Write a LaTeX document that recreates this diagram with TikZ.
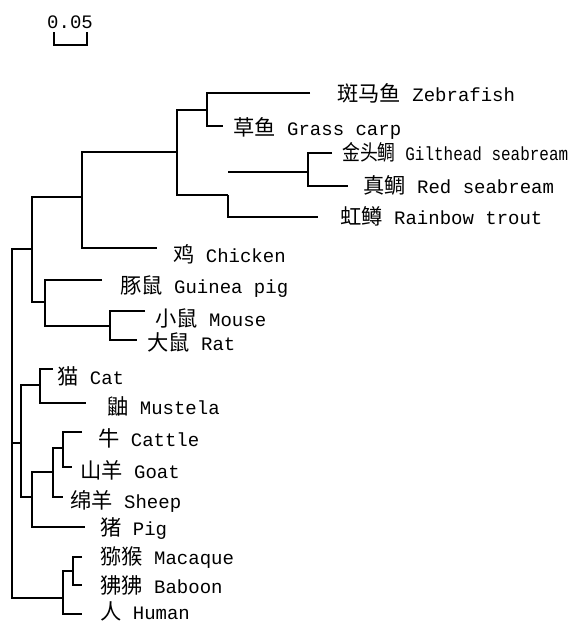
\documentclass[tikz,border=0pt]{standalone}
\usepackage{fontspec}
\setmonofont{Liberation Mono}
\newfontfamily\cjk[Scale=1.12]{Noto Sans CJK SC}
\newcommand\zh[1]{{\cjk #1}}
\usepackage{tikz}
\usetikzlibrary{calc}

\begin{document}
\begin{tikzpicture}[
  x=1pt,y=-1pt,
  branch/.style={line width=2pt},
  taxon/.style={anchor=west,inner sep=0pt,font=\fontsize{19}{19}\selectfont\ttfamily}
]
\useasboundingbox (0,0) rectangle (568,624);
% scale bar
\node[taxon] (scale) at (47,22) {0.05};
\coordinate (sbL) at (54,32);
\coordinate (sbR) at (87,32);
\draw[line width=1.6pt] (sbL) |- ($(sbR)+(0,13)$) -- (sbR);
% internal nodes
\coordinate (root) at (12,443);
\coordinate (nA) at (32,249);
\coordinate (nB) at (82,197);
\coordinate (nC) at (177,152);
\coordinate (nD) at (207,110);
\coordinate (nE) at (228,195);
\coordinate (nF) at (308,172);
\coordinate (nG) at (45,302);
\coordinate (nH) at (110,326);
\coordinate (nI) at (21,443);
\coordinate (nJ) at (40,385);
\coordinate (nK) at (32,497);
\coordinate (nL) at (53,472);
\coordinate (nM) at (63,448);
\coordinate (nN) at (63,598);
\coordinate (nO) at (73,571);
% branch ends
\coordinate (zebra-e) at (310,93);
\coordinate (grass-e) at (223,126);
\coordinate (gilt-e) at (332,153);
\coordinate (red-e) at (348,186);
\coordinate (trout-e) at (318,217);
\coordinate (chicken-e) at (157,248);
\coordinate (guinea-e) at (102,280);
\coordinate (mouse-e) at (145,311);
\coordinate (rat-e) at (137,340);
\coordinate (cat-e) at (53,369);
\coordinate (mustela-e) at (86,403);
\coordinate (cattle-e) at (82,432);
\coordinate (goat-e) at (72,467);
\coordinate (sheep-e) at (63,497);
\coordinate (pig-e) at (85,527);
\coordinate (macaque-e) at (82,557);
\coordinate (baboon-e) at (82,585);
\coordinate (human-e) at (82,614);
% labels
\node[taxon] (zebra) at (337,93) {\zh{斑马鱼} Zebrafish};
\node[taxon] (grass) at (233,128) {\zh{草鱼} Grass carp};
\node[taxon] (gilt) at (342,152) {\scalebox{0.84}[1]{\zh{金头鲷} Gilthead seabream}};
\node[taxon] (red) at (363,185) {\zh{真鲷} Red seabream};
\node[taxon] (trout) at (340,216) {\zh{虹鳟} Rainbow trout};
\node[taxon] (chicken) at (173,254) {\zh{鸡} Chicken};
\node[taxon] (guinea) at (120,287) {\zh{豚鼠} Guinea pig};
\node[taxon] (mouse) at (155,318) {\zh{小鼠} Mouse};
\node[taxon] (rat) at (147,342) {\zh{大鼠} Rat};
\node[taxon] (cat) at (57,376) {\zh{猫} Cat};
\node[taxon] (mustela) at (107,406) {\zh{鼬} Mustela};
\node[taxon] (cattle) at (98,438) {\zh{牛} Cattle};
\node[taxon] (goat) at (80,470) {\zh{山羊} Goat};
\node[taxon] (sheep) at (70,501) {\zh{绵羊} Sheep};
\node[taxon] (pig) at (100,529) {\zh{猪} Pig};
\node[taxon] (macaque) at (100,558) {\zh{猕猴} Macaque};
\node[taxon] (baboon) at (100,585) {\zh{狒狒} Baboon};
\node[taxon] (human) at (100,611) {\zh{人} Human};
% tree
\begin{scope}[branch]
\draw (nA) -| (root) |- (nN);
\draw (nI) -- (nI -| root);
\draw (nB) -| (nA) |- (nG);
\draw (nC) -| (nB) |- (chicken-e);
\draw (nD) -| (nC) |- (nE);
\draw (zebra-e) -| (nD) |- (grass-e);
\draw (nE) |- (trout-e);
\draw (gilt-e) -| (nF) |- (red-e);
\draw (nF) -- (nF -| nE);
\draw (guinea-e) -| (nG) |- (nH);
\draw (mouse-e) -| (nH) |- (rat-e);
\draw (nJ) -| (nI) |- (nK);
\draw (cat-e) -| (nJ) |- (mustela-e);
\draw (nL) -| (nK) |- (pig-e);
\draw (nM) -| (nL) |- (sheep-e);
\draw (cattle-e) -| (nM) |- (goat-e);
\draw (nO) -| (nN) |- (human-e);
\draw (macaque-e) -| (nO) |- (baboon-e);
\end{scope}
\end{tikzpicture}
\end{document}
